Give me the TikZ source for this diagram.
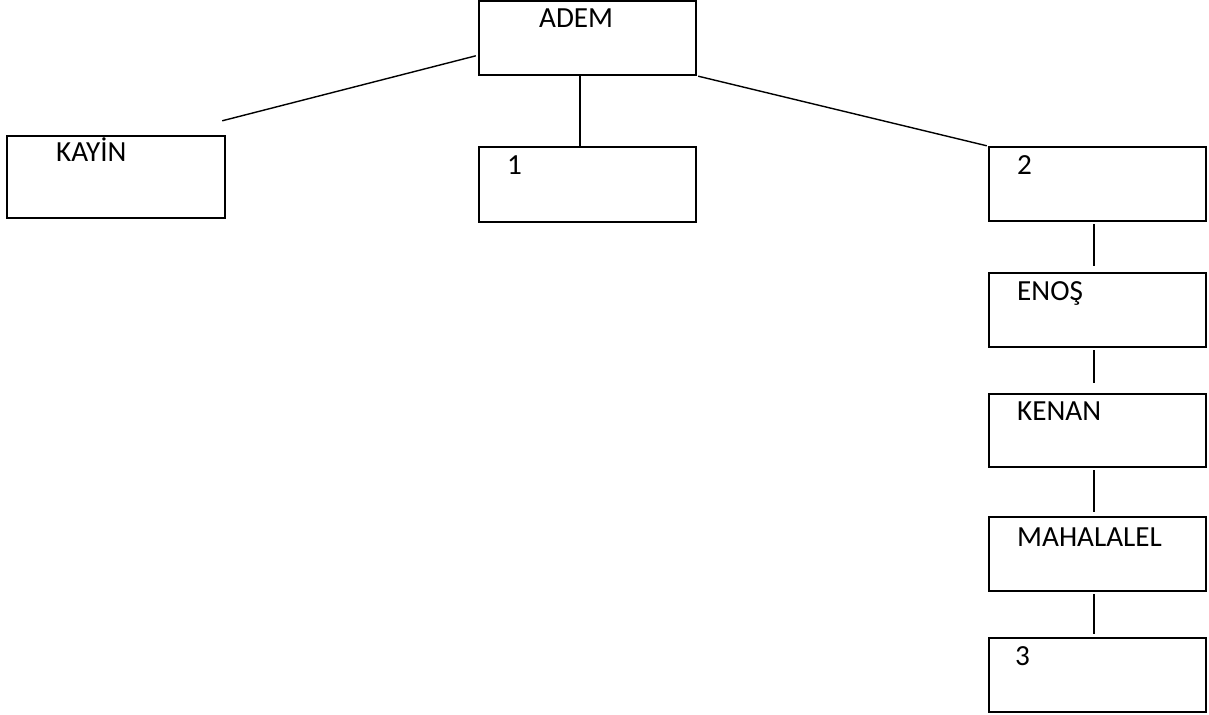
\documentclass[tikz,border=0pt]{standalone}
\usepackage{fontspec}
\setmainfont{Carlito}
\usepackage{tikz}
\tikzset{
  box/.style={draw, line width=1.35pt, inner sep=0pt, minimum width=217*0.02cm, minimum height=74*0.02cm},
  lbl/.style={anchor=base west, inner sep=0pt, font=\fontsize{16.6}{19}\selectfont},
  link/.style={line width=0.8pt}
}
\begin{document}
\begin{tikzpicture}[x=0.02cm, y=-0.02cm]
\useasboundingbox (0,0) rectangle (1209,715);
% Boxes
\node[box] (adem) at (587.5,38) {};
\node[box, minimum width=218*0.02cm, minimum height=82*0.02cm] (kayin) at (116,177) {};
\node[box, minimum height=75*0.02cm] (one) at (587.5,184.5) {};
\node[box] (two) at (1097.5,184) {};
\node[box] (enos) at (1097.5,310) {};
\node[box, minimum height=73*0.02cm] (kenan) at (1097.5,430.5) {};
\node[box] (mahalalel) at (1097.5,554) {};
\node[box] (three) at (1097.5,675) {};

% Texts
\node[lbl] (ademT) at ([shift={(61,28)}]adem.north west) {ADEM};
\node[lbl] (kayinT) at ([shift={(50,27)}]kayin.north west) {KAYİN};
\node[lbl] (oneT) at ([shift={(29,29)}]one.north west) {1};
\node[lbl] (twoT) at ([shift={(29,29)}]two.north west) {2};
\node[lbl] (enosT) at ([shift={(29,29)}]enos.north west) {ENOŞ};
\node[lbl] (kenanT) at ([shift={(29,28)}]kenan.north west) {KENAN};
\node[lbl] (mahalalelT) at ([shift={(29,31)}]mahalalel.north west) {MAHALALEL};
\node[lbl] (threeT) at ([shift={(27,29)}]three.north west) {3};

% Connectors
\draw[link] ([shift={(-4,-14)}]kayin.north east) -- ([shift={(-2,56)}]adem.north west);
\draw[link] ([shift={(-7.5,-1)}]adem.south) -- ([shift={(-7.5,0)}]one.north);
\draw[link] ([shift={(1,0)}]adem.south east) -- ([shift={(-1,0)}]two.north west);
\draw[link] ([shift={(-3.5,2)}]two.south) -- ([shift={(-3.5,-6)}]enos.north);
\draw[link] ([shift={(-3.5,2)}]enos.south) -- ([shift={(-3.5,-10)}]kenan.north);
\draw[link] ([shift={(-3.5,2)}]kenan.south) -- ([shift={(-3.5,-4)}]mahalalel.north);
\draw[link] ([shift={(-3.5,2)}]mahalalel.south) -- ([shift={(-3.5,-3)}]three.north);
\end{tikzpicture}
\end{document}
